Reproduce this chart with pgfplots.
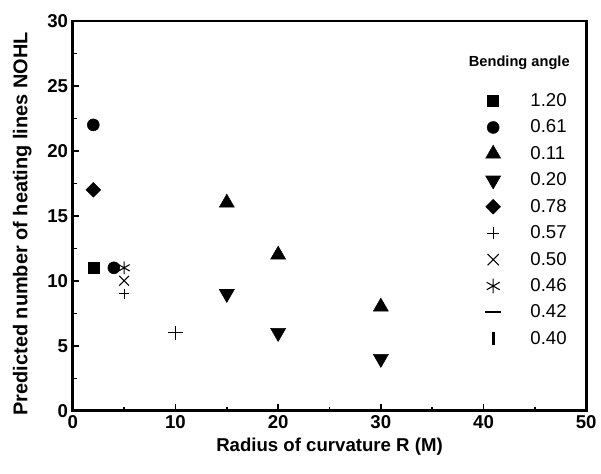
\documentclass[border=0pt]{standalone}
\usepackage{pgfplots}
\pgfplotsset{compat=1.18}
\usepackage{fontspec}
\setmainfont{Liberation Sans}
\begin{document}
\begin{tikzpicture}
\begin{axis}[name=ax,
  width=386.25pt, height=293.25pt, scale only axis,
  xmin=0, xmax=50, ymin=0, ymax=30,
  xtick={0,10,...,50}, ytick={0,5,...,30},
  minor x tick num=1, minor y tick num=1,
  tick align=inside, tick pos=left,
  major tick length=5pt, minor tick length=3pt,
  axis line style={line width=2pt},
  every tick/.style={line width=1.1pt, black},
  ticklabel style={font=\fontsize{14}{16}\selectfont\bfseries},
  /pgf/number format/assume math mode=true,
  xlabel={\textbf{Radius of curvature R (M)}},
  ylabel={\textbf{Predicted number of heating lines NOHL}},
  xlabel style={font=\fontsize{14}{16}\selectfont},
  ylabel style={font=\fontsize{15}{17}\selectfont, yshift=5pt, xshift=-6pt},
  every axis plot/.append style={only marks, black, mark options={solid, fill=black}},
  legend style={draw=none, fill=none, at={(rel axis cs:0.795,0.828)}, anchor=north west,
    font=\fontsize{14}{15}\selectfont, row sep=4.6pt,
    /tikz/every odd column/.append style={column sep=20pt}},
  legend cell align=left,
]
\addplot[mark=square*, mark size=4.1pt] coordinates {(2,11)};
\addlegendentry{1.20}
\addplot[mark=*, mark size=4.5pt] coordinates {(2,22) (4,11)};
\addlegendentry{0.61}
\addplot[mark=triangle*, mark size=6.5pt] coordinates {(15,16) (20,12) (30,8)};
\addlegendentry{0.11}
\addplot[mark=triangle*, mark size=6.5pt, mark options={rotate=180}] coordinates {(15,9) (20,6) (30,4)};
\addlegendentry{0.20}
\addplot[mark=square*, mark size=3.9pt, mark options={rotate=45}] coordinates {(2,17)};
\addlegendentry{0.78}
\addplot[mark=+, mark size=3.8pt, mark options={line width=0.9pt},
  legend image post style={mark size=4.6pt}] coordinates {(5,9)};
\addlegendentry{0.57}
\addplot[forget plot, mark=+, mark size=5.4pt, mark options={line width=0.9pt}] coordinates {(10,6)};
\addplot[mark=x, mark size=5.2pt, mark options={line width=0.8pt},
  legend image post style={mark size=6pt}] coordinates {(5,10)};
\addlegendentry{0.50}
\addplot[mark=asterisk, mark size=4.8pt, mark options={line width=0.8pt},
  legend image post style={mark size=5.6pt}] coordinates {(5,11)};
\addlegendentry{0.46}
\addlegendimage{only marks, black, mark=-, mark size=6pt, mark options={line width=1.6pt}}
\addlegendentry{0.42}
\addlegendimage{only marks, black, mark=|, mark size=5pt, mark options={line width=2pt}}
\addlegendentry{0.40}
\node[anchor=west, inner sep=0pt, font=\fontsize{11}{12}\selectfont\bfseries] at (rel axis cs:0.771,0.893) {Bending angle};
\end{axis}
\useasboundingbox ([shift={(-54.75pt,-47.25pt)}]ax.south west) rectangle ([shift={(9.75pt,15.75pt)}]ax.north east);
\end{tikzpicture}
\end{document}
